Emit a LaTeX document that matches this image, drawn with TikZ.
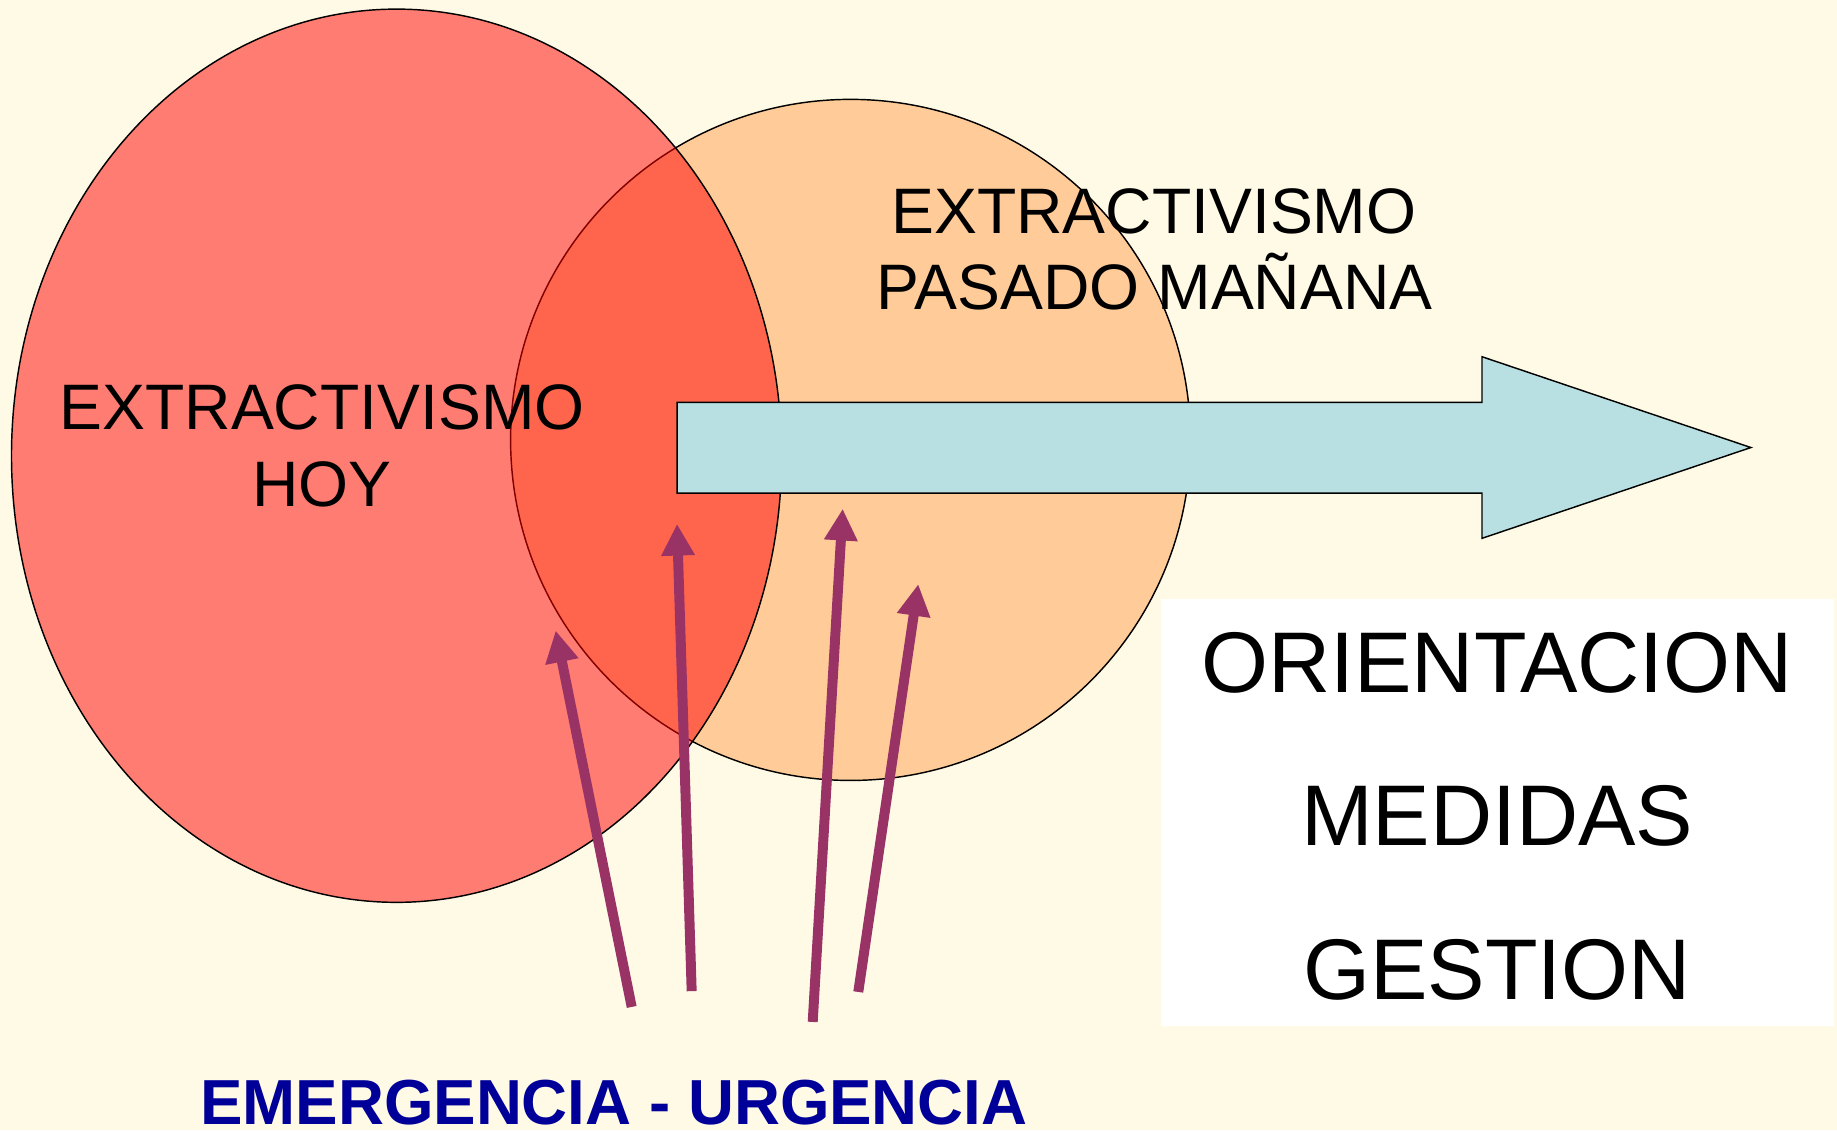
\documentclass[tikz,border=0pt]{standalone}
\usepackage{fontspec}
\setmainfont{Liberation Sans}
\usetikzlibrary{arrows.meta,shapes.geometric}
\definecolor{bg}{HTML}{FFFAE6}
\definecolor{orangefill}{HTML}{FFCC99}
\definecolor{bluefill}{HTML}{B8E0E2}
\definecolor{magarrow}{HTML}{993366}
\definecolor{navytext}{HTML}{000099}
\begin{document}
\begin{tikzpicture}[x=0.01cm,y=-0.01cm,
  outline/.style={draw=black,line width=0.35pt},
  blobshape/.style={ellipse,inner sep=0pt,outline},
  emarrow/.style={draw=magarrow,line width=0.085cm,-{Triangle[width=0.27cm,length=0.27cm]}},
  lbl/.style={inner sep=0pt,anchor=base,font=\fontsize{15.6pt}{19pt}\selectfont},
  boxlbl/.style={inner sep=0pt,anchor=base,font=\fontsize{20.9pt}{25pt}\selectfont},
  urglbl/.style={inner sep=0pt,anchor=base,text=navytext,font=\fontsize{15.45pt}{19pt}\selectfont\bfseries},
]
\fill[bg] (0,0) rectangle (1568,964.6);
\useasboundingbox (0,0) rectangle (1568,964.6);
% circles
\node[blobshape,fill=orangefill,minimum width=5.80cm,minimum height=5.81cm] (manana) at (726,375.5) {};
\node[blobshape,fill=red,fill opacity=0.5,minimum width=6.57cm,minimum height=7.62cm] (hoy) at (338.5,389) {};
% big blue arrow
\coordinate (a1) at (578,343.5);
\coordinate (a2) at (1265,343.5);
\coordinate (a3) at (1265,304.5);
\coordinate (a4) at (1494.5,382);
\coordinate (a5) at (1265,459.5);
\coordinate (a6) at (1265,421);
\coordinate (a7) at (578,421);
\filldraw[fill=bluefill,outline] (a1) -- (a2) -- (a3) -- (a4) -- (a5) -- (a6) -- (a7) -- cycle;
% white box
\node[fill=white,inner sep=0pt,minimum width=5.74cm,minimum height=3.645cm] (box) at (1278,693.75) {};
% magenta arrows
\coordinate (t1) at (539.2,859.5);
\coordinate (h1) at (474.3,538.2);
\coordinate (t2) at (590.4,846);
\coordinate (h2) at (577.9,447.2);
\coordinate (t3) at (693.7,872.3);
\coordinate (h3) at (719.3,434.3);
\coordinate (t4) at (732.6,846.7);
\coordinate (h4) at (783.8,498.6);
\draw[emarrow] (t1) -- (h1);
\draw[emarrow] (t2) -- (h2);
\draw[emarrow] (t3) -- (h3);
\draw[emarrow] (t4) -- (h4);
% texts
\node[lbl] (hoy1) at (275,366.5) {EXTRACTIVISMO};
\node[lbl] (hoy2) at (275,432) {HOY};
\node[lbl] (pm1) at (985,199.2) {EXTRACTIVISMO};
\node[lbl] (pm2) at (985.5,264.6) {PASADO MAÑANA};
\node[boxlbl] (or) at (1278,590.7) {ORIENTACION};
\node[boxlbl] (me) at (1278,721.6) {MEDIDAS};
\node[boxlbl] (ge) at (1278,852.9) {GESTION};
\node[urglbl] (urg) at (524,960) {EMERGENCIA - URGENCIA};
\end{tikzpicture}
\end{document}
